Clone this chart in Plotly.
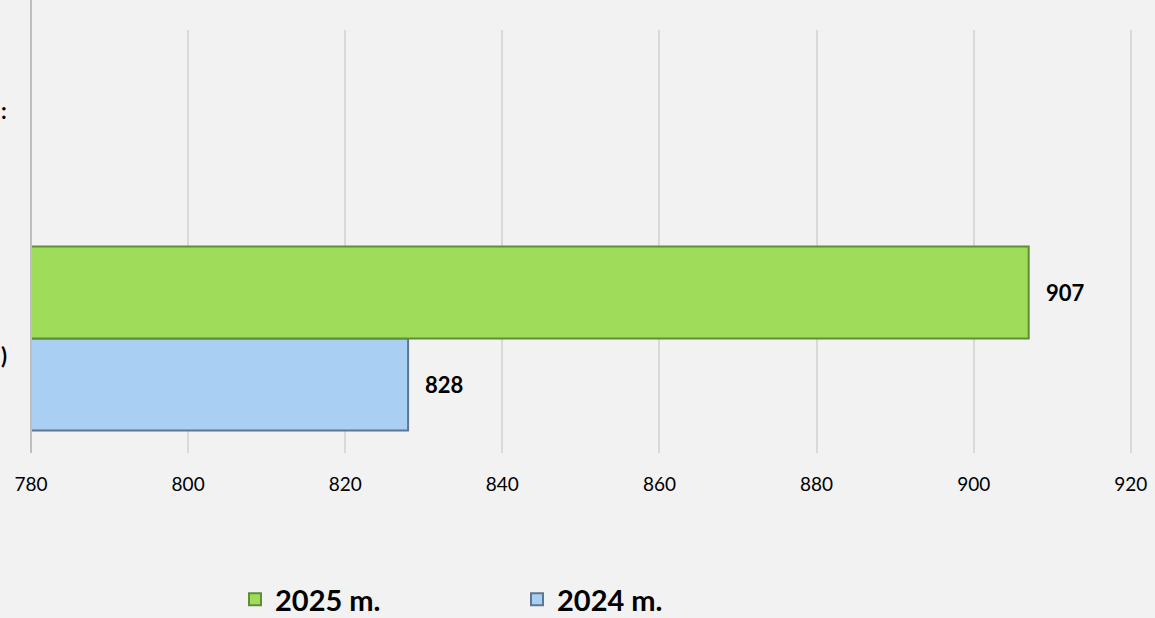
import plotly.graph_objects as go

# ---- data ----
categories = ["row_bottom", "row_top"]          # lower category has the data
series_names = ["2024 m.", "2025 m."]
values_2024 = [828, None]
values_2025 = [907, None]
x_ticks = [780, 800, 820, 840, 860, 880, 900, 920]
cut_labels = [")", ":"]                          # only visible ends of cropped category labels

FONT = "Lato"
green = "#9edc5a"
green_edge = "#5f8f34"
blue = "#a9cff2"
blue_edge = "#5d7792"

fig = go.Figure()
fig.add_trace(go.Bar(
    y=categories, x=values_2024, orientation="h", name=series_names[0],
    marker=dict(color=blue, line=dict(color=blue_edge, width=2)),
    hoverinfo="skip",
))
fig.add_trace(go.Bar(
    y=categories, x=values_2025, orientation="h", name=series_names[1],
    marker=dict(color=green, line=dict(color=green_edge, width=2)),
    hoverinfo="skip",
))

# value labels
for vals in (values_2024, values_2025):
    for cat, v in zip(categories, vals):
        if v is None:
            continue
        fig.add_annotation(
            x=v, y=cat, text=f"<b>{v}</b>", showarrow=False,
            xanchor="left", xshift=15,
            yshift=-46 if vals is values_2024 else 46,
            font=dict(family=FONT, size=22, color="#000000"),
        )

# cropped category label endings
for cat, lab, sh in zip(categories, cut_labels, (-17, 17)):
    fig.add_annotation(
        xref="paper", x=0, y=cat, text=f"<b>{lab}</b>", showarrow=False,
        xanchor="right", xshift=-22, yshift=sh,
        font=dict(family=FONT, size=22, color="#000000"),
    )

# y axis line extending above the plot area
fig.add_shape(type="line", xref="x domain", yref="paper",
              x0=0, x1=0, y0=0, y1=1.075,
              line=dict(color="#bfbfbf", width=2), layer="above")

fig.update_layout(
    width=1155, height=618,
    margin=dict(l=31, r=23, t=30, b=165, autoexpand=False),
    paper_bgcolor="#f2f2f2", plot_bgcolor="#f2f2f2",
    barmode="group", bargap=0.13, bargroupgap=0,
    font=dict(family=FONT, color="#000000"),
    xaxis=dict(
        range=[780, 920.15], tickvals=x_ticks, ticktext=[str(t) for t in x_ticks],
        showgrid=True, gridcolor="#d9d9d9", gridwidth=1.5,
        zeroline=False, showline=False, automargin=False,
        tickfont=dict(family=FONT, size=19, color="#000000"),
        ticks="", ticklabelstandoff=18,
    ),
    yaxis=dict(
        categoryorder="array", categoryarray=categories,
        range=[-0.541, 1.459], showticklabels=False, showgrid=False,
        zeroline=False, showline=False, ticks="", automargin=False,
    ),
    legend=dict(
        orientation="h", traceorder="reversed",
        x=214 / 1155, xanchor="left",
        yref="container", y=0.03, yanchor="middle",
        font=dict(family=FONT, size=29, color="#000000", weight="bold"),
        entrywidth=237, entrywidthmode="pixels",
        bgcolor="rgba(0,0,0,0)", itemwidth=30,
    ),
    showlegend=True,
)

fig.write_html("out.html",
               config={"displayModeBar": False},
               post_script="document.body.style.margin='0';document.body.style.background='#f2f2f2';")
